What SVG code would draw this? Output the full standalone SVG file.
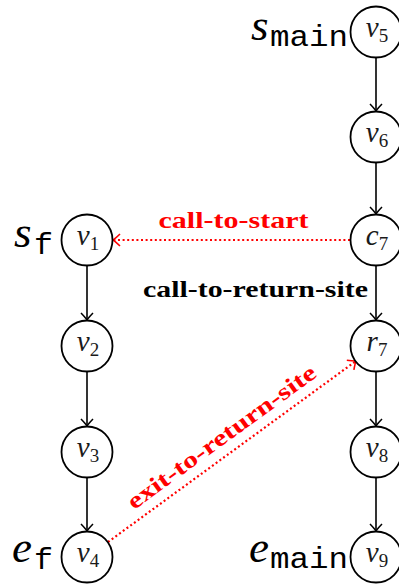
<svg xmlns="http://www.w3.org/2000/svg" width="399" height="587" viewBox="0 0 399 587">
<defs>
<style>
.node circle{fill:#fff;stroke:#000;stroke-width:1.8}
.nl{font-family:"Liberation Serif","DejaVu Serif",serif;font-style:italic;font-size:29px;fill:#1a1a1a;text-anchor:middle}
.sub{font-style:normal;font-size:19px}
.edge{stroke:#000;stroke-width:1.6;fill:none}
.red{stroke:#f00;stroke-width:2.2;stroke-dasharray:2 2.6;fill:none}
.lab{font-family:"Liberation Serif","DejaVu Serif",serif;font-weight:bold;font-size:23px}
.big{font-family:"Liberation Serif","DejaVu Serif",serif;font-style:italic;font-size:45px;fill:#000}
.mono{font-family:"Liberation Mono","DejaVu Sans Mono",monospace;font-size:29px;fill:#000}
</style>
<marker id="ab" markerUnits="userSpaceOnUse" markerWidth="16" markerHeight="16" viewBox="-10 -8 12 16" refX="0" refY="0" orient="auto">
<path d="M-7,-6 Q-2,-1.2 0,0 Q-2,1.2 -7,6" fill="none" stroke="#000" stroke-width="1.5"/>
</marker>
<marker id="ar" markerUnits="userSpaceOnUse" markerWidth="16" markerHeight="16" viewBox="-10 -8 12 16" refX="0" refY="0" orient="auto">
<path d="M-7,-6 Q-2,-1.2 0,0 Q-2,1.2 -7,6" fill="none" stroke="#f00" stroke-width="1.6"/>
</marker>
</defs>
<rect width="399" height="587" fill="#fff"/>
<g id="connectors">
<line class="edge" x1="376" y1="58" x2="376" y2="111" marker-end="url(#ab)"/>
<line class="edge" x1="376" y1="163" x2="376" y2="214" marker-end="url(#ab)"/>
<line class="edge" x1="376" y1="266" x2="376" y2="320" marker-end="url(#ab)"/>
<line class="edge" x1="376" y1="372" x2="376" y2="426" marker-end="url(#ab)"/>
<line class="edge" x1="376" y1="478" x2="376" y2="531" marker-end="url(#ab)"/>
<line class="edge" x1="87" y1="266" x2="87" y2="320" marker-end="url(#ab)"/>
<line class="edge" x1="87" y1="372" x2="87" y2="426" marker-end="url(#ab)"/>
<line class="edge" x1="87" y1="478" x2="87" y2="531" marker-end="url(#ab)"/>
<line class="red" x1="350" y1="240" x2="113" y2="240" marker-end="url(#ar)"/>
<line class="red" x1="108" y1="542" x2="356" y2="361" marker-end="url(#ar)"/>
<text class="lab" x="233.5" y="228" fill="#f00" text-anchor="middle" textLength="150" lengthAdjust="spacingAndGlyphs">call-to-start</text>
<text class="lab" x="255.5" y="297" fill="#000" text-anchor="middle" textLength="225" lengthAdjust="spacingAndGlyphs">call-to-return-site</text>
<text class="lab" transform="translate(226,443) rotate(-36.1)" fill="#f00" text-anchor="middle" textLength="228" lengthAdjust="spacingAndGlyphs">exit-to-return-site</text>
</g>
<g id="v5" class="node"><circle cx="376" cy="32" r="25.5"/><text class="nl" x="377" y="37">v<tspan class="sub" dy="5">5</tspan></text></g>
<g id="v6" class="node"><circle cx="376" cy="137" r="25.5"/><text class="nl" x="377" y="142">v<tspan class="sub" dy="5">6</tspan></text></g>
<g id="c7" class="node"><circle cx="376" cy="240" r="25.5"/><text class="nl" x="377" y="245">c<tspan class="sub" dy="5">7</tspan></text></g>
<g id="r7" class="node"><circle cx="376" cy="346" r="25.5"/><text class="nl" x="377" y="351">r<tspan class="sub" dy="5">7</tspan></text></g>
<g id="v8" class="node"><circle cx="376" cy="452" r="25.5"/><text class="nl" x="377" y="457">v<tspan class="sub" dy="5">8</tspan></text></g>
<g id="v9" class="node"><circle cx="376" cy="557" r="25.5"/><text class="nl" x="377" y="562">v<tspan class="sub" dy="5">9</tspan></text></g>
<g id="v1" class="node"><circle cx="87" cy="240" r="25.5"/><text class="nl" x="88" y="245">v<tspan class="sub" dy="5">1</tspan></text></g>
<g id="v2" class="node"><circle cx="87" cy="346" r="25.5"/><text class="nl" x="88" y="351">v<tspan class="sub" dy="5">2</tspan></text></g>
<g id="v3" class="node"><circle cx="87" cy="452" r="25.5"/><text class="nl" x="88" y="457">v<tspan class="sub" dy="5">3</tspan></text></g>
<g id="v4" class="node"><circle cx="87" cy="557" r="25.5"/><text class="nl" x="88" y="562">v<tspan class="sub" dy="5">4</tspan></text></g>
<g id="labels">
<text class="big" x="251" y="40">s</text><text class="mono" x="270" y="46" textLength="78" lengthAdjust="spacingAndGlyphs">main</text>
<text class="big" x="14" y="247">s</text><text class="mono" x="34" y="254" textLength="19" lengthAdjust="spacingAndGlyphs">f</text>
<text class="big" x="12" y="562">e</text><text class="mono" x="34" y="569" textLength="19" lengthAdjust="spacingAndGlyphs">f</text>
<text class="big" x="249" y="562">e</text><text class="mono" x="270" y="568" textLength="78" lengthAdjust="spacingAndGlyphs">main</text>
</g>
</svg>
